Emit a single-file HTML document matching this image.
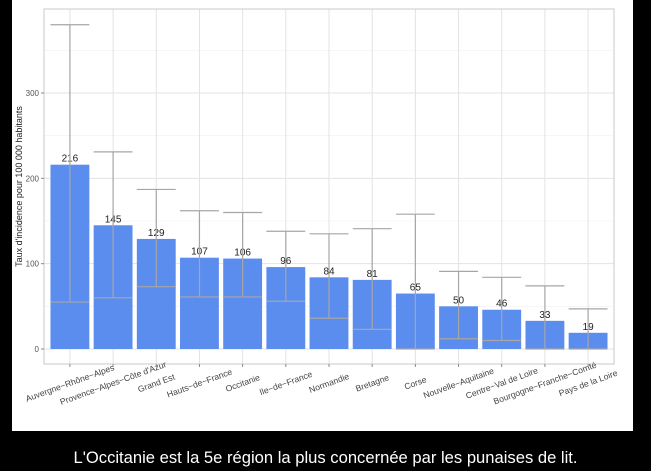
<!DOCTYPE html>
<html><head><meta charset="utf-8"><style>
body{margin:0;background:#000;width:651px;height:471px;overflow:hidden;font-family:"Liberation Sans",sans-serif}
#panel{position:absolute;left:12px;top:0;width:621px;height:431px;background:#fff}
#cap{position:absolute;left:0;top:448px;width:651px;text-align:center;color:#fff;font-size:16.6px}
</style></head><body>
<div id="panel">
<svg id="chart" width="621" height="431"></svg>
</div>
<div id="cap">L'Occitanie est la 5e région la plus concernée par les punaises de lit.</div>
<script>
const categories=["Auvergne−Rhône−Alpes","Provence−Alpes−Côte d'Azur","Grand Est","Hauts−de−France","Occitanie","Ile−de−France","Normandie","Bretagne","Corse","Nouvelle−Aquitaine","Centre−Val de Loire","Bourgogne−Franche−Comté","Pays de la Loire"];
const values=[216,145,129,107,106,96,84,81,65,50,46,33,19];
const lower=[55,60,73,61,61,56,36,23,0,12,10,0,0];
const upper=[380,231,187,162,160,138,135,141,158,91,84,74,47];
const yTicks=[0,100,200,300];
const yMinor=[50,150,250,350];
const ox=12;
const L=44-ox,R=614-ox,T=9,B=364;
const y0=349,pxPer=0.8533;
const n=categories.length;
const step=(R-L)/(n-1+1.2);
const y=v=>y0-v*pxPer;
const x=i=>L+step*(0.6+i);
const svg=document.getElementById('chart');
const NS='http://www.w3.org/2000/svg';
function mk(t,a,p){const e=document.createElementNS(NS,t);for(const k in a)e.setAttribute(k,a[k]);(p||svg).appendChild(e);return e;}
const grid=mk('g',{});

yMinor.forEach(v=>{if(y(v)>T)mk('line',{x1:L,x2:R,y1:y(v),y2:y(v),stroke:'#f0f0f0','stroke-width':0.6},grid);});
yTicks.forEach(v=>mk('line',{x1:L,x2:R,y1:y(v),y2:y(v),stroke:'#e3e3e3','stroke-width':1},grid));
categories.forEach((c,i)=>mk('line',{x1:x(i),x2:x(i),y1:T,y2:B,stroke:'#e3e3e3','stroke-width':1},grid));
const bw=step*0.9;
values.forEach((v,i)=>{
 const r=mk('rect',{x:x(i)-bw/2,y:y(v),width:bw,height:y(0)-y(v),fill:'#5b8def'});
 
 const t=mk('text',{x:x(i),y:y(v)-3,'text-anchor':'middle','font-size':10,fill:'#222'});t.textContent=values[i];
 
});
upper.forEach((u,i)=>{
 const g=mk('g',{stroke:'#a6a6a6','stroke-width':1.2,fill:'none'});
 
 mk('line',{x1:x(i),x2:x(i),y1:y(lower[i]),y2:y(u)},g);
 mk('line',{x1:x(i)-bw/2,x2:x(i)+bw/2,y1:y(u),y2:y(u)},g);
 mk('line',{x1:x(i)-bw/2,x2:x(i)+bw/2,y1:y(lower[i]),y2:y(lower[i])},g);
});
mk('rect',{x:L,y:T,width:R-L,height:B-T,fill:'none',stroke:'#c8c8c8','stroke-width':1});
yTicks.forEach(v=>{
 mk('line',{x1:L-3,x2:L,y1:y(v),y2:y(v),stroke:'#888'});
 const t=mk('text',{x:L-5,y:y(v)+3,'text-anchor':'end','font-size':8,fill:'#555'});t.textContent=v;
 
});
categories.forEach((c,i)=>{
 mk('line',{x1:x(i),x2:x(i),y1:B,y2:B+3,stroke:'#888'});
 const cx=x(i),cy=B+19;
 const t=mk('text',{x:cx,y:cy+3,'text-anchor':'middle','font-size':8.6,fill:'#444',transform:`rotate(-20 ${cx} ${cy})`});t.textContent=c;
 
});
const yt=mk('text',{x:0,y:0,'text-anchor':'middle','font-size':9,fill:'#222',transform:`translate(10 ${(T+B)/2}) rotate(-90)`});
yt.textContent="Taux d'incidence pour 100 000 habitants";

</script>
</body></html>
